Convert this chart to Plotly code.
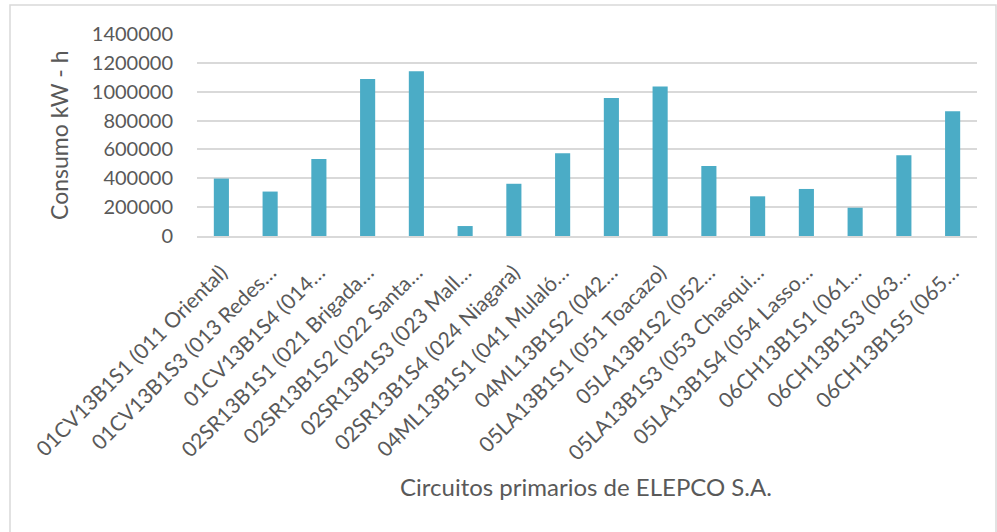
import plotly.graph_objects as go

# Circuitos primarios y consumo anual (kW-h)
circuitos = [
    "01CV13B1S1 (011 Oriental)",
    "01CV13B1S3 (013 Redes…",
    "01CV13B1S4 (014…",
    "02SR13B1S1 (021 Brigada…",
    "02SR13B1S2 (022 Santa…",
    "02SR13B1S3 (023 Mall…",
    "02SR13B1S4 (024 Niagara)",
    "04ML13B1S1 (041 Mulaló…",
    "04ML13B1S2 (042…",
    "05LA13B1S1 (051 Toacazo)",
    "05LA13B1S2 (052…",
    "05LA13B1S3 (053 Chasqui…",
    "05LA13B1S4 (054 Lasso…",
    "06CH13B1S1 (061…",
    "06CH13B1S3 (063…",
    "06CH13B1S5 (065…",
]
consumo = [
    398000, 308000, 534000, 1088000, 1141000, 69000, 362000, 573000,
    956000, 1037000, 485000, 275000, 326000, 196000, 559000, 864000,
]
y_ticks = [0, 200000, 400000, 600000, 800000, 1000000, 1200000, 1400000]

W, H = 997, 532
L, R, T, B = 197, 977, 34, 236  # plot area in pixels


def px_x(p):
    return (p - L) / (R - L)


def px_y(p):
    return (B - p) / (B - T)


FONT = "Lato"
GREY = "#595959"

fig = go.Figure(
    go.Bar(
        x=circuitos,
        y=consumo,
        marker=dict(color="#4BACC6", line=dict(width=0)),
        width=0.31,
    )
)

fig.update_layout(
    width=W,
    height=H,
    margin=dict(l=L, r=W - R, t=T, b=H - B, autoexpand=False),
    paper_bgcolor="white",
    plot_bgcolor="white",
    showlegend=False,
    font=dict(family=FONT, color=GREY),
    xaxis=dict(
        type="category",
        tickangle=-45,
        tickfont=dict(size=21, color=GREY),
        showgrid=False,
        showline=True,
        linecolor="#d9d9d9",
        linewidth=2,
        ticks="",
        ticklabelstandoff=14,
        automargin=False,
    ),
    yaxis=dict(
        range=[0, 1400000],
        tickvals=y_ticks,
        ticktext=[str(v) for v in y_ticks],
        tickfont=dict(size=20, color=GREY),
        showgrid=True,
        gridcolor="#d9d9d9",
        gridwidth=1.5,
        zeroline=False,
        showline=False,
        ticks="",
        ticklabelstandoff=23,
        automargin=False,
    ),
    shapes=[
        dict(
            type="rect",
            xref="paper",
            yref="paper",
            x0=px_x(10),
            x1=px_x(996),
            y0=px_y(560),
            y1=px_y(5),
            line=dict(color="#d9d9d9", width=1.5),
            fillcolor="rgba(0,0,0,0)",
            layer="below",
        )
    ],
    annotations=[
        dict(
            text="Consumo kW - h",
            xref="paper",
            yref="paper",
            x=px_x(59),
            y=px_y(135),
            showarrow=False,
            textangle=-90,
            font=dict(size=23, color=GREY, family=FONT),
            xanchor="center",
            yanchor="middle",
        ),
        dict(
            text="Circuitos primarios de ELEPCO S.A.",
            xref="paper",
            yref="paper",
            x=px_x(586),
            y=px_y(486),
            showarrow=False,
            font=dict(size=24, color=GREY, family=FONT),
            xanchor="center",
            yanchor="middle",
        ),
    ],
)

fig.write_html("out.html")
